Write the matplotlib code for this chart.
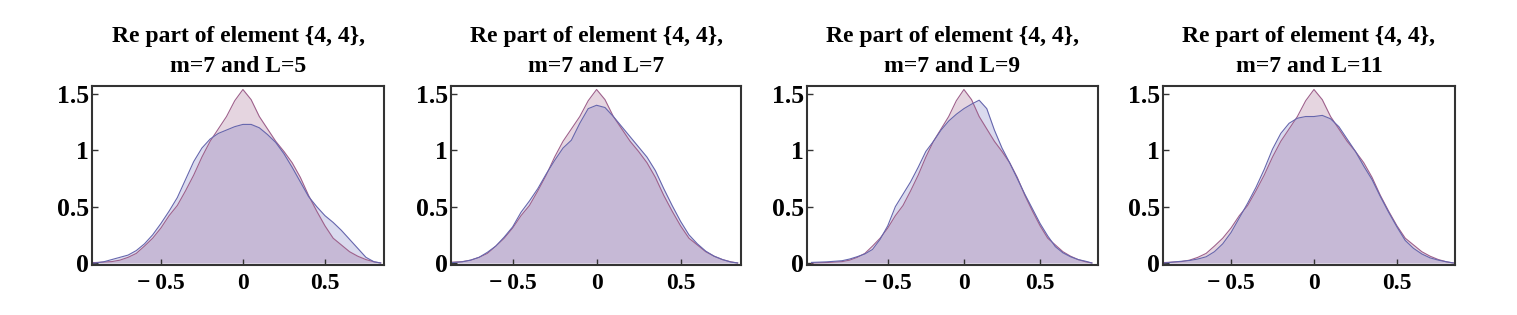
import numpy as np
import matplotlib
matplotlib.use("Agg")
import matplotlib.pyplot as plt

# ---- data ----
x_grid = [-1.0, -0.9, -0.85, -0.8, -0.75, -0.7, -0.65, -0.6, -0.55, -0.5, -0.45, -0.4,
          -0.35, -0.3, -0.25, -0.2, -0.15, -0.1, -0.05, 0.0, 0.05, 0.1, 0.15, 0.2,
          0.25, 0.3, 0.35, 0.4, 0.45, 0.5, 0.55, 0.6, 0.65, 0.7, 0.75, 0.8, 0.84]

# reference density (pink), same in all panels
pink = [0.0, 0.004, 0.008, 0.012, 0.025, 0.05, 0.085, 0.15, 0.22, 0.31, 0.42, 0.51,
        0.64, 0.78, 0.94, 1.08, 1.19, 1.30, 1.44, 1.54, 1.45, 1.30, 1.19, 1.08,
        0.99, 0.89, 0.76, 0.60, 0.46, 0.33, 0.22, 0.16, 0.10, 0.06, 0.03, 0.01, 0.0]

blue_L5 = [0.0, 0.0, 0.01, 0.03, 0.05, 0.07, 0.11, 0.17, 0.25, 0.35, 0.46, 0.58,
           0.74, 0.90, 1.02, 1.10, 1.15, 1.18, 1.21, 1.23, 1.23, 1.20, 1.14, 1.07,
           0.97, 0.85, 0.72, 0.59, 0.50, 0.42, 0.36, 0.29, 0.21, 0.13, 0.05, 0.01, 0.0]

blue_L7 = [0.0, 0.0, 0.004, 0.01, 0.025, 0.05, 0.095, 0.15, 0.23, 0.32, 0.45, 0.55,
           0.66, 0.79, 0.91, 1.02, 1.09, 1.24, 1.37, 1.40, 1.38, 1.30, 1.21, 1.12,
           1.03, 0.94, 0.82, 0.66, 0.51, 0.37, 0.25, 0.17, 0.105, 0.06, 0.03, 0.008, 0.0]

blue_L9 = [0.005, 0.01, 0.015, 0.02, 0.035, 0.056, 0.08, 0.12, 0.21, 0.33, 0.50, 0.61,
           0.72, 0.85, 0.99, 1.08, 1.18, 1.26, 1.32, 1.37, 1.41, 1.445, 1.37, 1.18,
           1.02, 0.89, 0.75, 0.61, 0.48, 0.35, 0.24, 0.145, 0.09, 0.055, 0.03, 0.015, 0.0]

blue_L11 = [0.0, 0.0, 0.008, 0.015, 0.022, 0.035, 0.055, 0.10, 0.17, 0.27, 0.40, 0.53,
            0.67, 0.83, 1.01, 1.15, 1.24, 1.285, 1.30, 1.30, 1.31, 1.28, 1.21, 1.10,
            0.99, 0.86, 0.74, 0.59, 0.45, 0.32, 0.20, 0.13, 0.08, 0.045, 0.025, 0.01, 0.0]

titles = ["Re part of element {4, 4},\nm=7 and L=5",
          "Re part of element {4, 4},\nm=7 and L=7",
          "Re part of element {4, 4},\nm=7 and L=9",
          "Re part of element {4, 4},\nm=7 and L=11"]
blues = [blue_L5, blue_L7, blue_L9, blue_L11]
x_ticks = [-0.5, 0.0, 0.5]
x_ticklabels = ["\u2212\u20090.5", "0", "0.5"]
y_ticks = [0.0, 0.5, 1.0, 1.5]
y_ticklabels = ["0", "0.5", "1", "1.5"]

# ---- layout ----
W, H = 1517, 315
fig = plt.figure(figsize=(W / 100, H / 100), dpi=100)
plt.rcParams['font.family'] = ['Liberation Serif', 'DejaVu Serif']

panels_px = [(92, 384), (451, 741), (807, 1098), (1163, 1455)]
xlims = [(-0.92, 0.86), (-0.867, 0.86), (-1.03, 0.88), (-0.91, 0.85)]
top_px, bot_px = 86, 265

pink_fill = (0.55, 0.25, 0.45, 0.22)
blue_fill = (0.35, 0.35, 0.70, 0.22)
pink_line = (0.62, 0.38, 0.55)
blue_line = (0.40, 0.40, 0.68)
frame_col = "#333333"

x = np.array(x_grid)
for i, ((l, r), xl) in enumerate(zip(panels_px, xlims)):
    ax = fig.add_axes([l / W, (H - bot_px) / H, (r - l) / W, (bot_px - top_px) / H])
    yp = np.array(pink)
    yb = np.array(blues[i])
    ax.fill_between(x, 0, yp, color=pink_fill, linewidth=0)
    ax.fill_between(x, 0, yb, color=blue_fill, linewidth=0)
    ax.plot(x, yp, color=pink_line, lw=0.8)
    ax.plot(x, yb, color=blue_line, lw=0.8)
    ax.set_xlim(*xl)
    ax.set_ylim(-0.018, 1.571)
    ax.set_xticks(x_ticks)
    ax.set_xticklabels(x_ticklabels)
    ax.set_yticks(y_ticks)
    ax.set_yticklabels(y_ticklabels)
    ax.tick_params(direction='in', length=4, width=1, color=frame_col,
                   top=False, right=False)
    ax.tick_params(axis='x', pad=6, labelsize=17)
    ax.tick_params(axis='y', pad=2, labelsize=18.5)
    for lab in ax.get_xticklabels() + ax.get_yticklabels():
        lab.set_fontweight('bold')
    for s in ax.spines.values():
        s.set_color(frame_col)
        s.set_linewidth(1.5)
    ax.set_title(titles[i], fontsize=17, fontweight='bold', pad=10, linespacing=1.55)

fig.savefig("out.png", dpi=100)
